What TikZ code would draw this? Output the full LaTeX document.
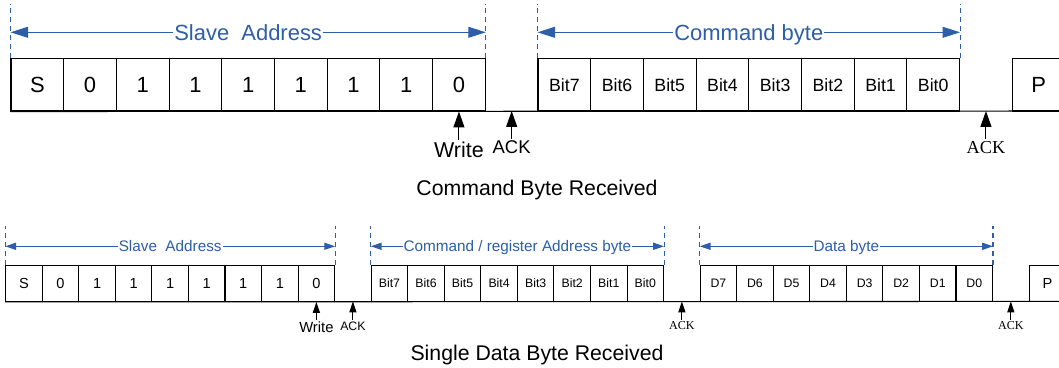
\documentclass[tikz,border=0pt]{standalone}
\usepackage{fontspec}
\setmainfont{Liberation Sans}
\newfontfamily\timesfont{Liberation Serif}
\usetikzlibrary{arrows.meta}
\definecolor{spanblue}{RGB}{44,94,170}

\begin{document}
\begin{tikzpicture}[x=0.02cm,y=-0.02cm]
\tikzstyle{bigcell}=[draw,line width=0.6pt,minimum width=1.054cm,minimum height=1.05cm,inner sep=0pt,font=\fontsize{12.5}{14}\selectfont]
\tikzstyle{bigbit}=[bigcell,font=\fontsize{10.1}{12}\selectfont]
\tikzstyle{smallcell}=[draw,line width=0.6pt,minimum width=0.731cm,minimum height=0.724cm,inner sep=0pt,font=\fontsize{8.3}{10}\selectfont]
\tikzstyle{smallbit}=[smallcell,font=\fontsize{7}{8}\selectfont]
\tikzstyle{tag}=[anchor=north,inner sep=1pt]
\tikzstyle{bigarrow}=[line width=0.6pt,-{Triangle[length=9pt,width=6.2pt]}]
\tikzstyle{smallarrow}=[line width=0.6pt,-{Triangle[length=6.2pt,width=4pt]}]
\tikzstyle{spandash}=[spanblue,line width=0.7pt,dash pattern=on 2.8pt off 2.3pt]
\tikzstyle{bigspan}=[spanblue,line width=0.7pt,{Triangle[length=10pt,width=6.2pt]}-{Triangle[length=10pt,width=6.2pt]}]
\tikzstyle{smallspan}=[spanblue,line width=0.7pt,{Triangle[length=6.2pt,width=4pt]}-{Triangle[length=6.2pt,width=4pt]}]
\tikzstyle{spanlabel}=[fill=white,text=spanblue,inner sep=0.6pt,text depth=0pt]
\clip (0,0) rectangle (1059,368);

% command byte received
\foreach \v [count=\i from 0] in {S,0,1,1,1,1,1,1,0}
  \node[bigcell] (sa\i) at ({11+52.7*(\i+0.5)},84.75) {\v};
\foreach \b [count=\i from 10] in {7,...,0}
  \node[bigbit] (cb\b) at ({11+52.7*(\i+0.5)},84.75) {Bit\b};
\node[bigcell] (pt) at ({11+52.7*19.5},84.75) {P};
\coordinate (topend) at (1065,111);
\draw[line width=0.6pt] (sa0.south west) -- (topend);

\draw[spandash] (sa0.north west) -- ++(0,-54);
\draw[spandash] (sa8.north east) -- ++(0,-54);
\draw[spandash] (cb7.north west) -- ++(0,-54);
\draw[spandash] (cb0.north east) -- ++(0,-54);
\draw[bigspan] (sa0.north west |- 0,32.3) -- (sa8.north east |- 0,32.3)
  node[midway,spanlabel,font=\fontsize{12.5}{14}\selectfont] (sal) {Slave~~Address};
\draw[bigspan] (cb7.north west |- 0,32.3) -- (cb0.north east |- 0,32.3)
  node[midway,spanlabel,font=\fontsize{12.5}{14}\selectfont] (cbl) {Command byte};

\node[tag,font=\fontsize{12.2}{14}\selectfont] (wr1) at ({11+52.7*8.5},140) {Write};
\node[tag,font=\fontsize{10.5}{12}\selectfont] (ak1) at ({11+52.7*9.5},139) {ACK};
\node[tag,font=\timesfont\fontsize{10.4}{12}\selectfont] (ak2) at ({11+52.7*18.5},139) {ACK};
\coordinate (g1) at ({11+52.7*9.5},111);
\coordinate (g2) at ({11+52.7*18.5},111);
\draw[bigarrow] (wr1.north) -- (sa8.south);
\draw[bigarrow] (ak1.north) -- (g1);
\draw[bigarrow] (ak2.north) -- (g2);
\node[anchor=base,font=\fontsize{12.1}{14}\selectfont] (cap1) at (537,195.5) {Command Byte Received};

% single data byte received
\foreach \v [count=\i from 0] in {S,0,1,1,1,1,1,1,0}
  \node[smallcell] (ba\i) at ({5.7+36.55*(\i+0.5)},283.3) {\v};
\foreach \b [count=\i from 10] in {7,...,0}
  \node[smallbit] (bc\b) at ({5.7+36.55*(\i+0.5)},283.3) {Bit\b};
\foreach \b [count=\i from 19] in {7,...,0}
  \node[smallbit] (bd\b) at ({5.7+36.55*(\i+0.5)},283.3) {D\b};
\node[smallcell] (bp) at ({5.7+36.55*28.5},283.3) {P};
\coordinate (botend) at (1065,301.4);
\draw[line width=0.6pt] (ba0.south west) -- (botend);

\draw[spandash] (ba0.north west) -- ++(0,-38.5);
\draw[spandash] (ba8.north east) -- ++(0,-38.5);
\draw[spandash] (bc7.north west) -- ++(0,-38.5);
\draw[spandash] (bc0.north east) -- ++(0,-38.5);
\draw[spandash] (bd7.north west) -- ++(0,-38.5);
\draw[spandash] (bd0.north east) -- ++(0,-38.5);
\draw[smallspan] (ba0.north west |- 0,246.3) -- (ba8.north east |- 0,246.3)
  node[midway,spanlabel,font=\fontsize{8.7}{10}\selectfont] (bal) {Slave~~Address};
\draw[smallspan] (bc7.north west |- 0,246.3) -- (bc0.north east |- 0,246.3)
  node[midway,spanlabel,font=\fontsize{8.7}{10}\selectfont] (bcl) {Command / register Address byte};
\draw[smallspan] (bd7.north west |- 0,246.3) -- (bd0.north east |- 0,246.3)
  node[midway,spanlabel,font=\fontsize{8.7}{10}\selectfont] (bdl) {Data byte};

\node[tag,font=\fontsize{8.4}{10}\selectfont] (wr2) at ({5.7+36.55*8.5},319.5) {Write};
\node[tag,font=\fontsize{7}{8}\selectfont] (ak3) at ({5.7+36.55*9.5},319.5) {ACK};
\node[tag,font=\timesfont\fontsize{6.9}{8}\selectfont] (ak4) at ({5.7+36.55*18.5},319.5) {ACK};
\node[tag,font=\timesfont\fontsize{6.9}{8}\selectfont] (ak5) at ({5.7+36.55*27.5},319.5) {ACK};
\coordinate (g3) at ({5.7+36.55*9.5},301.4);
\coordinate (g4) at ({5.7+36.55*18.5},301.4);
\coordinate (g5) at ({5.7+36.55*27.5},301.4);
\draw[smallarrow] (wr2.north) -- (ba8.south);
\draw[smallarrow] (ak3.north) -- (g3);
\draw[smallarrow] (ak4.north) -- (g4);
\draw[smallarrow] (ak5.north) -- (g5);
\node[anchor=base,font=\fontsize{12.1}{14}\selectfont] (cap2) at (537,360.5) {Single Data Byte Received};
\end{tikzpicture}
\end{document}
